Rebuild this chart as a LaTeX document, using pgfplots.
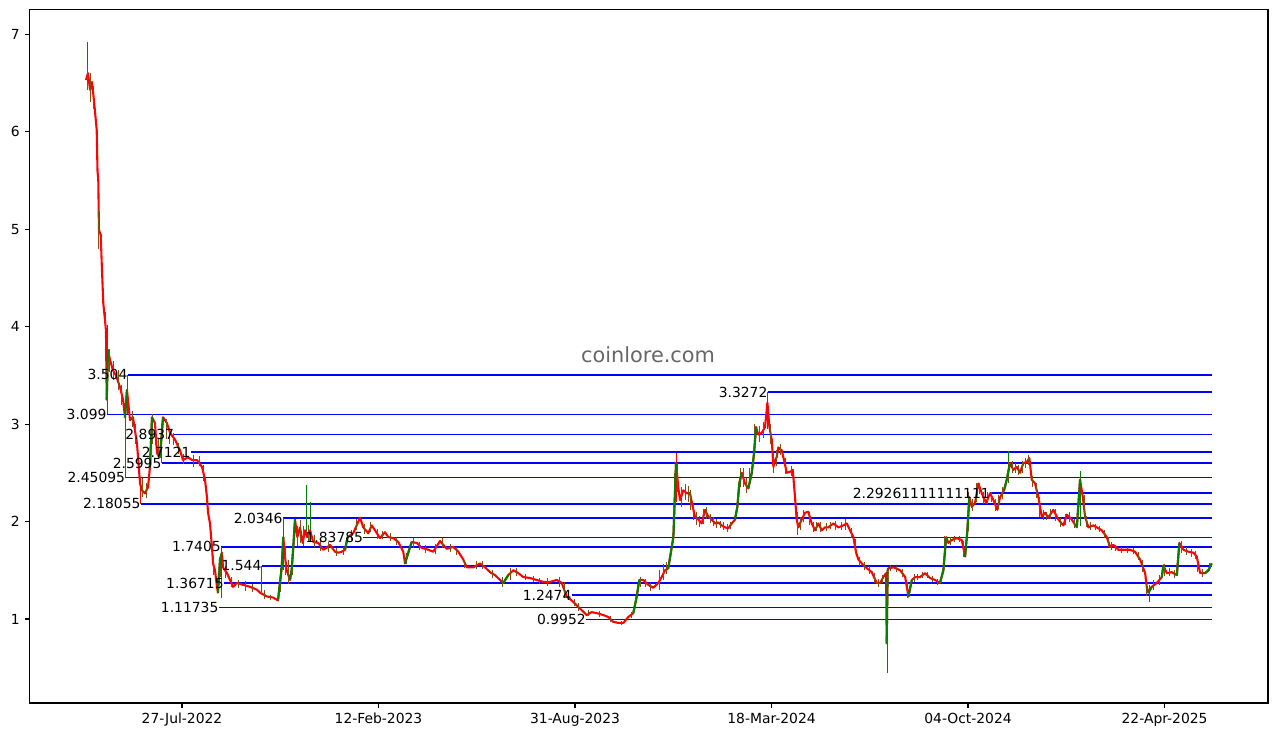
\documentclass[border=0pt]{standalone}
\usepackage{pgfplots}
\pgfplotsset{compat=1.18}
\usepackage{fontspec}
\setmainfont{DejaVu Sans}
\definecolor{mplgreen}{RGB}{0,128,0}
\definecolor{wick}{RGB}{140,75,10}
\definecolor{wm}{RGB}{102,102,102}
\begin{document}
\begin{tikzpicture}
\begin{axis}[
  at={(0,0)}, anchor=south west,
  scale only axis, width=891.8pt, height=499.3pt,
  xmin=-155.3, xmax=1105.3, ymin=0.138, ymax=7.254,
  xtick={0,200,400,600,800,1000},
  xticklabels={27-Jul-2022,12-Feb-2023,31-Aug-2023,18-Mar-2024,04-Oct-2024,22-Apr-2025},
  ytick={1,2,3,4,5,6,7},
  tick align=outside, tick pos=left, major tick length=3.5pt,
  tick style={line width=0.8pt, black},
  axis line style={line width=0.8pt},
  ticklabel style={font=\fontsize{10}{12}\selectfont},
  /pgf/number format/assume math mode=true,
  unbounded coords=jump,
  clip=false,
]
% ---- support / resistance levels
\pgfplotsset{lvl/.style={blue, line width=1.08pt}}
\addplot[lvl] coordinates {(-55.3,3.504) (1048,3.504)};
\addplot[lvl] coordinates {(596.1,3.3272) (1048,3.3272)};
\addplot[lvl] coordinates {(-76.6,3.099) (1048,3.099)};
\addplot[lvl] coordinates {(-7.8,2.8937) (1048,2.8937)};
\addplot[lvl] coordinates {(8.8,2.7121) (1048,2.7121)};
\addplot[lvl] coordinates {(-20.7,2.5995) (1048,2.5995)};
\addplot[lvl] coordinates {(-57.7,2.45095) (1048,2.45095)};
\addplot[lvl] coordinates {(822.4,2.29261111111111) (1048,2.29261111111111)};
\addplot[lvl] coordinates {(-42,2.18055) (1048,2.18055)};
\addplot[lvl] coordinates {(102.5,2.0346) (1048,2.0346)};
\addplot[lvl] coordinates {(184.6,1.83785) (1048,1.83785)};
\addplot[lvl] coordinates {(39.7,1.7405) (1048,1.7405)};
\addplot[lvl] coordinates {(81.1,1.544) (1048,1.544)};
\addplot[lvl] coordinates {(42.7,1.36715) (1048,1.36715)};
\addplot[lvl] coordinates {(396.6,1.2474) (1048,1.2474)};
\addplot[lvl] coordinates {(37.3,1.11735) (1048,1.11735)};
\addplot[lvl] coordinates {(411.2,0.9952) (1048,0.9952)};
% ---- long wicks
\addplot[draw=none, mark=none, forget plot, error bars/.cd, y dir=both, y explicit,
  error mark=none, error bar style={mplgreen, line width=0.6pt}]
  coordinates {
  (-96.7,6.685) +- (0,0.235)
  (-76.2,3.56) +- (0,0.46)
  (-56,3.302) +- (0,0.202)
  (-20.7,2.80) +- (0,0.20)
  (39.7,1.48) +- (0,0.26)
  (103,1.767) +- (0,0.267)
  (127,2.11) +- (0,0.26)
  (131,2.0) +- (0,0.2)
  (717.9,0.985) +- (0,0.535)
  (841,2.56) +- (0,0.16)
  (914,2.235) +- (0,0.285)
  };
\addplot[draw=none, mark=none, forget plot, error bars/.cd, y dir=both, y explicit,
  error mark=none, error bar style={red, line width=0.6pt}]
  coordinates {
  (-58,2.775) +- (0,0.325)
  (-42,2.315) +- (0,0.135)
  (81,1.412) +- (0,0.132)
  (503.5,2.45) +- (0,0.25)
  (596.1,3.1386) +- (0,0.1886)
  (985,1.26) +- (0,0.09)
  };
% ---- close price (red)
\addplot[red, line width=1.5pt, line join=round] coordinates {
(-97.7,6.53) (-95.7,6.60) (-93.6,6.43) (-91.6,6.51) (-89.6,6.32) (-86.8,6.02) (-86.0,5.60)
(-85.2,5.50) (-84.5,4.99) (-82.7,4.94) (-81.7,4.65) (-80.1,4.24) (-78.4,4.07) (-77.4,3.96)
(-76.6,3.25) (-75.3,3.76) (-73.3,3.66) (-70.2,3.55) (-67.2,3.50) (-63.1,3.38) (-60.0,3.25)
(-58.0,3.07) (-56.0,3.35) (-52.9,3.04) (-49.9,3.07) (-45.8,2.80) (-42.7,2.39) (-40.7,2.32)
(-37.7,2.29) (-34.6,2.35) (-32.6,2.56) (-30.5,3.07) (-27.5,3.01) (-25.4,2.70) (-22.4,2.66)
(-19.3,3.07) (-15.3,3.01) (-12.2,2.91) (-7.1,2.84) (-2.0,2.73) (1.0,2.63) (6.1,2.66)
(10.2,2.63) (15.3,2.63) (20.4,2.56) (23.4,2.43) (25.4,2.25) (26.5,2.09) (28.5,1.98)
(30.5,1.74) (31.6,1.57) (33.6,1.50) (35.6,1.33) (36.6,1.27) (38.7,1.61) (40.7,1.68)
(41.7,1.53) (45.8,1.47) (48.9,1.40) (51.9,1.33) (56.0,1.37) (62.1,1.35) (69.2,1.33)
(76.3,1.30) (79.4,1.27) (86.5,1.23) (92.6,1.22) (97.7,1.19) (99.7,1.37) (101.5,1.53)
(103.1,1.84) (104.8,1.64) (106.6,1.50) (109.9,1.40) (111.6,1.50) (113.3,1.74) (115.0,2.02)
(117.4,1.84) (120.1,1.94) (122.8,1.78) (125.2,1.91) (127.5,1.84) (130.3,1.91) (133.6,1.79)
(138.7,1.78) (143.8,1.71) (147.3,1.73) (150.6,1.76) (155.7,1.69) (159.1,1.68) (162.5,1.69)
(165.9,1.71) (168.6,1.84) (174.3,1.88) (181.2,2.04) (184.5,1.94) (189.6,1.88) (193.1,1.96)
(196.4,1.91) (201.5,1.83) (206.6,1.89) (210.0,1.84) (215.1,1.83) (220.1,1.79) (225.2,1.69)
(227.0,1.57) (230.3,1.68) (233.8,1.79) (238.9,1.78) (244.0,1.73) (250.7,1.71) (255.8,1.69)
(262.6,1.80) (269.4,1.72) (276.1,1.74) (281.2,1.69) (286.3,1.61) (289.8,1.53) (296.5,1.53)
(303.3,1.57) (308.4,1.53) (313.5,1.48) (318.6,1.45) (323.7,1.40) (327.0,1.37) (332.1,1.45)
(337.2,1.50) (342.3,1.47) (347.4,1.43) (354.2,1.42) (361.0,1.40) (367.7,1.38) (374.5,1.38)
(381.4,1.40) (386.5,1.37) (391.5,1.23) (396.6,1.19) (401.7,1.14) (406.8,1.09) (411.9,1.04)
(417.0,1.07) (422.1,1.06) (428.8,1.04) (433.9,1.02) (439.0,0.97) (444.1,0.96) (449.2,0.96)
(454.2,1.02) (459.3,1.06) (462.8,1.23) (465.4,1.40) (469.5,1.40) (474.6,1.35) (479.7,1.32)
(484.8,1.37) (488.2,1.43) (491.6,1.50) (494.9,1.52) (500.1,1.84) (502.8,2.60) (505.1,2.35)
(506.9,2.22) (510.2,2.32) (513.7,2.29) (517.0,2.29) (519.8,2.15) (522.1,2.05) (525.5,2.02)
(528.9,1.98) (532.3,2.12) (535.7,2.05) (539.1,2.02) (542.5,1.98) (545.9,1.99) (549.3,1.96)
(552.7,1.94) (556.0,1.93) (559.5,1.98) (562.8,2.02) (565.2,2.15) (567.2,2.39) (569.7,2.50)
(573.0,2.39) (576.4,2.34) (579.9,2.50) (582.2,2.70) (584.2,2.97) (586.6,2.89) (590.0,2.91)
(593.4,2.97) (595.8,3.22) (597.8,2.97) (600.2,2.84) (601.9,2.56) (603.6,2.63) (605.3,2.66)
(606.9,2.76) (610.4,2.73) (612.7,2.63) (615.5,2.50) (618.8,2.51) (621.6,2.53) (623.9,2.25)
(625.6,2.02) (627.3,1.94) (630.7,2.02) (634.1,2.09) (637.4,2.10) (640.9,1.98) (644.3,1.91)
(647.6,1.98) (651.1,1.91) (654.4,1.94) (657.8,1.94) (662.9,1.98) (668.0,1.94) (673.1,1.96)
(676.6,1.98) (679.9,1.91) (683.3,1.84) (686.1,1.68) (688.4,1.61) (691.9,1.57) (697.0,1.52)
(702.0,1.48) (707.1,1.37) (710.5,1.37) (713.8,1.43) (716.6,1.47) (717.2,0.75) (718.2,1.50)
(719.0,1.52) (724.1,1.53) (730.9,1.50) (736.0,1.43) (739.3,1.23) (742.8,1.40) (746.1,1.43)
(751.2,1.43) (756.3,1.47) (761.3,1.42) (766.4,1.40) (771.5,1.37) (774.9,1.50) (777.7,1.84)
(780.0,1.78) (783.5,1.81) (788.5,1.83) (793.6,1.81) (797.0,1.64) (799.3,1.91) (801.3,2.25)
(803.8,2.15) (807.1,2.19) (810.5,2.39) (814.0,2.29) (818.3,2.19) (822.4,2.29) (825.8,2.22)
(829.8,2.12) (832.6,2.25) (836.6,2.32) (839.4,2.43) (842.7,2.60) (846.1,2.53) (849.6,2.56)
(852.9,2.50) (856.3,2.60) (859.7,2.61) (862.4,2.65) (864.8,2.43) (868.2,2.39) (871.6,2.25)
(875.0,2.05) (878.4,2.09) (881.7,2.04) (886.8,2.12) (891.9,2.02) (897.0,1.96) (900.5,2.07)
(905.6,2.02) (910.7,1.94) (914.0,2.43) (916.8,2.25) (919.1,2.05) (922.5,1.94) (927.6,1.96)
(932.7,1.93) (936.1,1.91) (941.2,1.84) (944.5,1.74) (947.9,1.76) (953.0,1.71) (958.1,1.71)
(964.9,1.71) (970.0,1.69) (975.1,1.61) (980.2,1.47) (981.9,1.33) (983.5,1.27) (987.0,1.33)
(992.1,1.37) (997.2,1.43) (998.8,1.55) (1002.3,1.47) (1007.4,1.48) (1012.5,1.45) (1015.1,1.78)
(1019.2,1.71) (1024.3,1.69) (1029.4,1.68) (1032.8,1.64) (1036.2,1.47) (1041.2,1.47) (1044.6,1.50)
(1048.0,1.57)
};
% ---- daily ranges (mixed candle bodies / wicks), over the close line
\addplot[draw=none, mark=none, forget plot, error bars/.cd, y dir=both, y explicit,
  error mark=none, error bar style={wick, line width=0.7pt}]
  coordinates {
(-96,6.55) +- (0,0.12) (-93,6.45) +- (0,0.15) (-90,6.35) +- (0,0.12) (-85,5.0) +- (0,0.2)
(-82,4.8) +- (0,0.15) (-78,4.05) +- (0,0.1) (-74,3.65) +- (0,0.12) (-70,3.55) +- (0,0.1)
(-65,3.45) +- (0,0.1) (-62,3.3) +- (0,0.1) (-50,3.05) +- (0,0.08) (-47,2.9) +- (0,0.1)
(-40,2.35) +- (0,0.1) (-36,2.32) +- (0,0.08) (-30,2.95) +- (0,0.15) (-27,2.9) +- (0,0.12)
(-24,2.75) +- (0,0.1) (-16,2.95) +- (0,0.1) (-13,2.88) +- (0,0.08) (-9,2.85) +- (0,0.06)
(-4,2.75) +- (0,0.06) (2,2.64) +- (0,0.05) (12,2.62) +- (0,0.06) (18,2.62) +- (0,0.05)
(22,2.5) +- (0,0.08) (32,1.55) +- (0,0.1) (39,1.55) +- (0,0.12) (44,1.48) +- (0,0.06)
(50,1.38) +- (0,0.05) (58,1.36) +- (0,0.04) (65,1.34) +- (0,0.05) (72,1.32) +- (0,0.04)
(84,1.25) +- (0,0.05) (90,1.22) +- (0,0.03) (100,1.4) +- (0,0.12) (105,1.6) +- (0,0.15)
(108,1.48) +- (0,0.12) (112,1.6) +- (0,0.15) (118,1.85) +- (0,0.1) (121,1.9) +- (0,0.12)
(124,1.85) +- (0,0.1) (129,1.88) +- (0,0.08) (135,1.8) +- (0,0.06) (141,1.75) +- (0,0.05)
(149,1.74) +- (0,0.05) (157,1.69) +- (0,0.04) (164,1.7) +- (0,0.04) (172,1.86) +- (0,0.05)
(178,1.97) +- (0,0.06) (186,1.92) +- (0,0.05) (192,1.94) +- (0,0.05) (199,1.87) +- (0,0.05)
(204,1.86) +- (0,0.04) (212,1.84) +- (0,0.04) (218,1.8) +- (0,0.04) (228,1.62) +- (0,0.06)
(236,1.78) +- (0,0.05) (242,1.75) +- (0,0.04) (248,1.72) +- (0,0.04) (258,1.72) +- (0,0.05)
(265,1.78) +- (0,0.05) (273,1.73) +- (0,0.04) (279,1.7) +- (0,0.04) (288,1.56) +- (0,0.04)
(300,1.55) +- (0,0.04) (306,1.55) +- (0,0.04) (316,1.46) +- (0,0.04) (326,1.38) +- (0,0.05)
(334,1.46) +- (0,0.06) (340,1.48) +- (0,0.04) (350,1.43) +- (0,0.03) (358,1.41) +- (0,0.03)
(364,1.39) +- (0,0.03) (372,1.38) +- (0,0.04) (384,1.38) +- (0,0.05) (389,1.3) +- (0,0.08)
(399,1.17) +- (0,0.04) (404,1.12) +- (0,0.04) (414,1.06) +- (0,0.03) (425,1.05) +- (0,0.03)
(436,1.0) +- (0,0.03) (447,0.96) +- (0,0.02) (457,1.04) +- (0,0.03) (467,1.38) +- (0,0.05)
(472,1.37) +- (0,0.04) (477,1.33) +- (0,0.04) (486,1.4) +- (0,0.1) (490,1.48) +- (0,0.08)
(493,1.52) +- (0,0.06) (501,2.2) +- (0,0.3) (504,2.45) +- (0,0.15) (508,2.25) +- (0,0.1)
(512,2.3) +- (0,0.08) (515,2.28) +- (0,0.08) (518,2.22) +- (0,0.1) (521,2.1) +- (0,0.08)
(524,2.03) +- (0,0.07) (527,2.0) +- (0,0.06) (531,2.05) +- (0,0.08) (534,2.09) +- (0,0.06)
(538,2.03) +- (0,0.05) (541,2.0) +- (0,0.05) (544,1.98) +- (0,0.05) (548,1.97) +- (0,0.04)
(551,1.95) +- (0,0.04) (555,1.93) +- (0,0.04) (558,1.96) +- (0,0.04) (568,2.45) +- (0,0.1)
(571,2.45) +- (0,0.1) (575,2.37) +- (0,0.08) (578,2.45) +- (0,0.1) (583,2.85) +- (0,0.15)
(588,2.9) +- (0,0.08) (592,2.94) +- (0,0.08) (599,2.9) +- (0,0.1) (602,2.6) +- (0,0.1)
(605,2.65) +- (0,0.08) (609,2.74) +- (0,0.06) (614,2.57) +- (0,0.08) (620,2.52) +- (0,0.05)
(626,1.98) +- (0,0.12) (629,1.98) +- (0,0.07) (633,2.06) +- (0,0.06) (639,2.03) +- (0,0.07)
(643,1.94) +- (0,0.05) (646,1.95) +- (0,0.05) (650,1.94) +- (0,0.05) (656,1.94) +- (0,0.04)
(660,1.96) +- (0,0.04) (665,1.96) +- (0,0.05) (671,1.95) +- (0,0.04) (675,1.97) +- (0,0.06)
(681,1.88) +- (0,0.05) (685,1.75) +- (0,0.07) (690,1.59) +- (0,0.05) (695,1.54) +- (0,0.04)
(700,1.5) +- (0,0.04) (705,1.42) +- (0,0.05) (709,1.37) +- (0,0.04) (713,1.41) +- (0,0.04)
(721,1.52) +- (0,0.03) (727,1.51) +- (0,0.03) (733,1.47) +- (0,0.04) (738,1.3) +- (0,0.08)
(745,1.42) +- (0,0.04) (749,1.43) +- (0,0.03) (754,1.45) +- (0,0.03) (759,1.45) +- (0,0.03)
(764,1.41) +- (0,0.03) (769,1.38) +- (0,0.03) (776,1.7) +- (0,0.15) (782,1.8) +- (0,0.04)
(786,1.82) +- (0,0.03) (791,1.82) +- (0,0.03) (795,1.72) +- (0,0.08) (800,2.1) +- (0,0.2)
(805,2.17) +- (0,0.06) (809,2.3) +- (0,0.1) (812,2.34) +- (0,0.06) (816,2.24) +- (0,0.06)
(820,2.24) +- (0,0.06) (824,2.25) +- (0,0.05) (828,2.17) +- (0,0.06) (831,2.2) +- (0,0.07)
(835,2.29) +- (0,0.06) (841,2.52) +- (0,0.1) (845,2.56) +- (0,0.06) (848,2.55) +- (0,0.05)
(851,2.53) +- (0,0.05) (855,2.56) +- (0,0.06) (858,2.6) +- (0,0.05) (861,2.63) +- (0,0.05)
(866,2.41) +- (0,0.06) (870,2.32) +- (0,0.08) (873,2.15) +- (0,0.1) (877,2.07) +- (0,0.05)
(880,2.06) +- (0,0.04) (884,2.08) +- (0,0.05) (889,2.07) +- (0,0.06) (894,1.99) +- (0,0.05)
(899,2.02) +- (0,0.06) (903,2.05) +- (0,0.05) (908,1.98) +- (0,0.05) (918,2.15) +- (0,0.12)
(921,2.0) +- (0,0.06) (925,1.95) +- (0,0.04) (930,1.94) +- (0,0.03) (934,1.92) +- (0,0.03)
(939,1.87) +- (0,0.04) (943,1.79) +- (0,0.05) (946,1.75) +- (0,0.04) (950,1.73) +- (0,0.03)
(956,1.71) +- (0,0.03) (962,1.71) +- (0,0.03) (968,1.7) +- (0,0.03) (973,1.65) +- (0,0.04)
(978,1.54) +- (0,0.06) (982,1.3) +- (0,0.06) (989,1.35) +- (0,0.05) (995,1.4) +- (0,0.05)
(1000,1.5) +- (0,0.06) (1005,1.48) +- (0,0.04) (1010,1.46) +- (0,0.04) (1017,1.74) +- (0,0.06)
(1022,1.7) +- (0,0.04) (1027,1.68) +- (0,0.04) (1031,1.66) +- (0,0.04) (1034,1.56) +- (0,0.08)
(1039,1.47) +- (0,0.04) (1046,1.53) +- (0,0.04)
  };
% ---- rising stretches (green)
\addplot[mplgreen, line width=1.5pt, line join=round] coordinates {
(-76.6,3.25) (-75.3,3.76) (-75.3,nan)
(-58.0,3.07) (-56.0,3.35) (-56.0,nan)
(-32.6,2.56) (-30.5,3.07) (-30.5,nan)
(-22.4,2.66) (-19.3,3.07) (-19.3,nan)
(36.6,1.27) (38.7,1.61) (40.7,1.68) (40.7,nan)
(97.7,1.19) (99.7,1.37) (101.5,1.53) (103.1,1.84) (103.1,nan)
(109.9,1.40) (111.6,1.50) (113.3,1.74) (115.0,2.02) (115.0,nan)
(165.9,1.71) (168.6,1.84) (168.6,nan)
(227.0,1.57) (230.3,1.68) (233.8,1.79) (233.8,nan)
(327.0,1.37) (332.1,1.45) (332.1,nan)
(459.3,1.06) (462.8,1.23) (465.4,1.40) (465.4,nan)
(494.9,1.52) (500.1,1.84) (502.8,2.60) (502.8,nan)
(562.8,2.02) (565.2,2.15) (567.2,2.39) (569.7,2.50) (569.7,nan)
(576.4,2.34) (579.9,2.50) (582.2,2.70) (584.2,2.97) (584.2,nan)
(717.2,0.75) (718.2,1.50) (718.2,nan)
(739.3,1.23) (742.8,1.40) (742.8,nan)
(771.5,1.37) (774.9,1.50) (777.7,1.84) (777.7,nan)
(797.0,1.64) (799.3,1.91) (801.3,2.25) (801.3,nan)
(836.6,2.32) (839.4,2.43) (842.7,2.60) (842.7,nan)
(910.7,1.94) (914.0,2.43) (914.0,nan)
(983.5,1.27) (987.0,1.33) (987.0,nan)
(997.2,1.43) (998.8,1.55) (998.8,nan)
(1012.5,1.45) (1015.1,1.78) (1015.1,nan)
(1041.2,1.47) (1044.6,1.50) (1048.0,1.57)
};
% ---- level labels
\begin{scope}[every node/.style={anchor=east, inner sep=0pt, font=\fontsize{10}{12}\selectfont}]
\node at (axis cs:-55.3,3.504) {3.504};
\node at (axis cs:596.1,3.3272) {3.3272};
\node at (axis cs:-76.6,3.099) {3.099};
\node at (axis cs:-7.8,2.8937) {2.8937};
\node at (axis cs:8.8,2.7121) {2.7121};
\node at (axis cs:-20.7,2.5995) {2.5995};
\node at (axis cs:-57.7,2.45095) {2.45095};
\node at (axis cs:822.4,2.29261111111111) {2.29261111111111};
\node at (axis cs:-42,2.18055) {2.18055};
\node at (axis cs:102.5,2.0346) {2.0346};
\node at (axis cs:184.6,1.83785) {1.83785};
\node at (axis cs:39.7,1.7405) {1.7405};
\node at (axis cs:81.1,1.544) {1.544};
\node at (axis cs:42.7,1.36715) {1.36715};
\node at (axis cs:396.6,1.2474) {1.2474};
\node at (axis cs:37.3,1.11735) {1.11735};
\node at (axis cs:411.2,0.9952) {0.9952};
\end{scope}
\node[text=wm, font=\fontsize{15}{18}\selectfont, inner sep=0pt] at (axis cs:474.3,3.71) {coinlore.com};
\end{axis}
\pgfresetboundingbox
\useasboundingbox (-21.17pt,-23.76pt) rectangle (898.99pt,506.14pt);
\end{tikzpicture}
\end{document}
